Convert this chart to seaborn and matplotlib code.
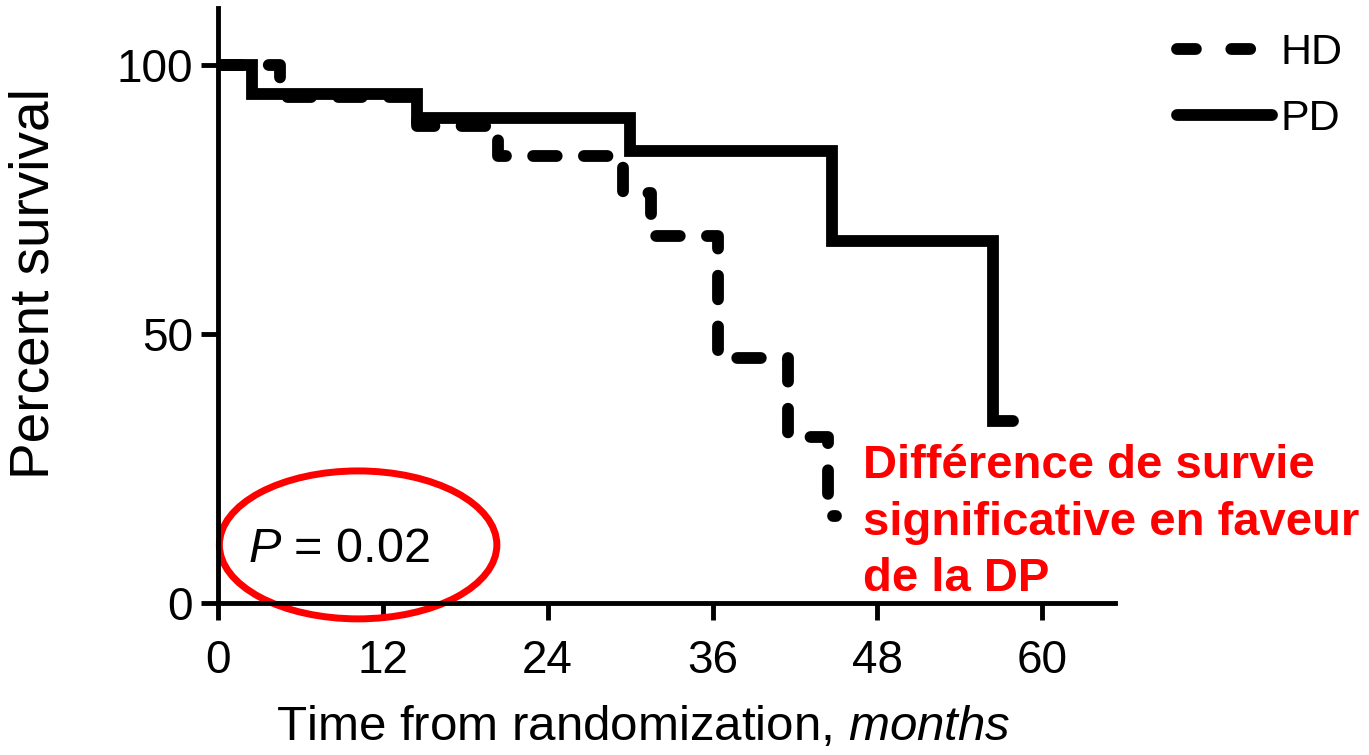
import matplotlib
matplotlib.use("Agg")
import matplotlib.pyplot as plt
import seaborn as sns
import pandas as pd
from matplotlib.patches import Ellipse
from matplotlib.lines import Line2D

# Data
hd_time = [0, 4.5, 14.5, 20.4, 29.5, 31.5, 36.4, 41.5, 44.4, 45.0]
hd_surv = [100, 94.0, 88.7, 83.0, 76.3, 68.3, 45.6, 30.8, 16.1, 16.1]
pd_time = [0, 2.5, 14.5, 30.0, 44.7, 56.4, 57.9]
pd_surv = [100, 94.7, 90.2, 84.0, 67.3, 33.8, 33.8]
groups = ["HD", "PD"]
x_ticks = [0, 12, 24, 36, 48, 60]
y_ticks = [0, 50, 100]

df = pd.concat([
    pd.DataFrame({"time": hd_time, "surv": hd_surv, "group": "HD"}),
    pd.DataFrame({"time": pd_time, "surv": pd_surv, "group": "PD"}),
], ignore_index=True)

sns.set_theme(style="ticks")
plt.rcParams["font.family"] = ["Liberation Sans", "DejaVu Sans"]
plt.rcParams["mathtext.fontset"] = "custom"
plt.rcParams["mathtext.rm"] = "Liberation Sans"
plt.rcParams["mathtext.it"] = "Liberation Sans:italic"
plt.rcParams["text.color"] = "black"
plt.rcParams["axes.labelcolor"] = "black"
plt.rcParams["xtick.color"] = "black"
plt.rcParams["ytick.color"] = "black"

fig = plt.figure(figsize=(13.69, 7.55), dpi=100)
ax = fig.add_axes([218/1369, 1-603/755, (1115-218)/1369, (603-8)/755])

sns.lineplot(data=df, x="time", y="surv", hue="group", style="group",
             hue_order=groups, style_order=groups,
             palette={"HD": "black", "PD": "black"},
             dashes={"HD": (2.0, 2.3), "PD": ""},
             estimator=None, sort=False, drawstyle="steps-post",
             linewidth=8.5, ax=ax, legend=False)
for ln in ax.get_lines():
    ln.set_dash_capstyle("round")
    ln.set_solid_capstyle("round")
    ln.set_solid_joinstyle("miter")

ax.set_xlim(0, 65.3)
ax.set_ylim(0, 110.6)
ax.set_xticks(x_ticks)
ax.set_yticks(y_ticks)
ax.tick_params(axis="both", labelsize=33, width=3.5, length=12, color="black",
               labelcolor="black")
ax.tick_params(axis="x", pad=14)
ax.tick_params(axis="y", pad=6)
sns.despine(ax=ax)
for s in ["left", "bottom"]:
    ax.spines[s].set_linewidth(3.5)
    ax.spines[s].set_color("black")

ax.set_xlabel("Time from randomization, $\\it{months}$", fontsize=35.5, labelpad=16,
              color="black", x=(643-218)/(1115-218))
ax.set_ylabel("Percent survival", fontsize=39.5, labelpad=40, color="black",
              y=(603-284)/(603-8))

# legend
handles = [Line2D([], [], color="black", lw=8.5, dashes=(1.6, 3.0), dash_capstyle="round"),
           Line2D([], [], color="black", lw=8.5)]
leg = fig.legend(handles, groups, loc="upper right", bbox_to_anchor=(1360/1369, 1-16/755),
                 frameon=False, fontsize=31, handlelength=2.2, handletextpad=0.2,
                 labelspacing=0.6, borderaxespad=0)
for t in leg.get_texts():
    t.set_color("black")

# P value annotation
ax.text(2.2, 10.0, "$\\it{P}$ = 0.02", fontsize=35, ha="left", va="center", color="black")
ell = Ellipse((10.2, 10.8), width=20.2, height=27.5, transform=ax.transData,
              fill=False, edgecolor="#ff0000", linewidth=5, clip_on=False)
ax.add_patch(ell)

fig.text(863/1369, 1-444/755, "Différence de survie\nsignificative en faveur\nde la DP",
         color="#ff0000", fontsize=34, fontweight="bold", ha="left", va="top",
         linespacing=1.37)

fig.savefig("out.png", dpi=100)
